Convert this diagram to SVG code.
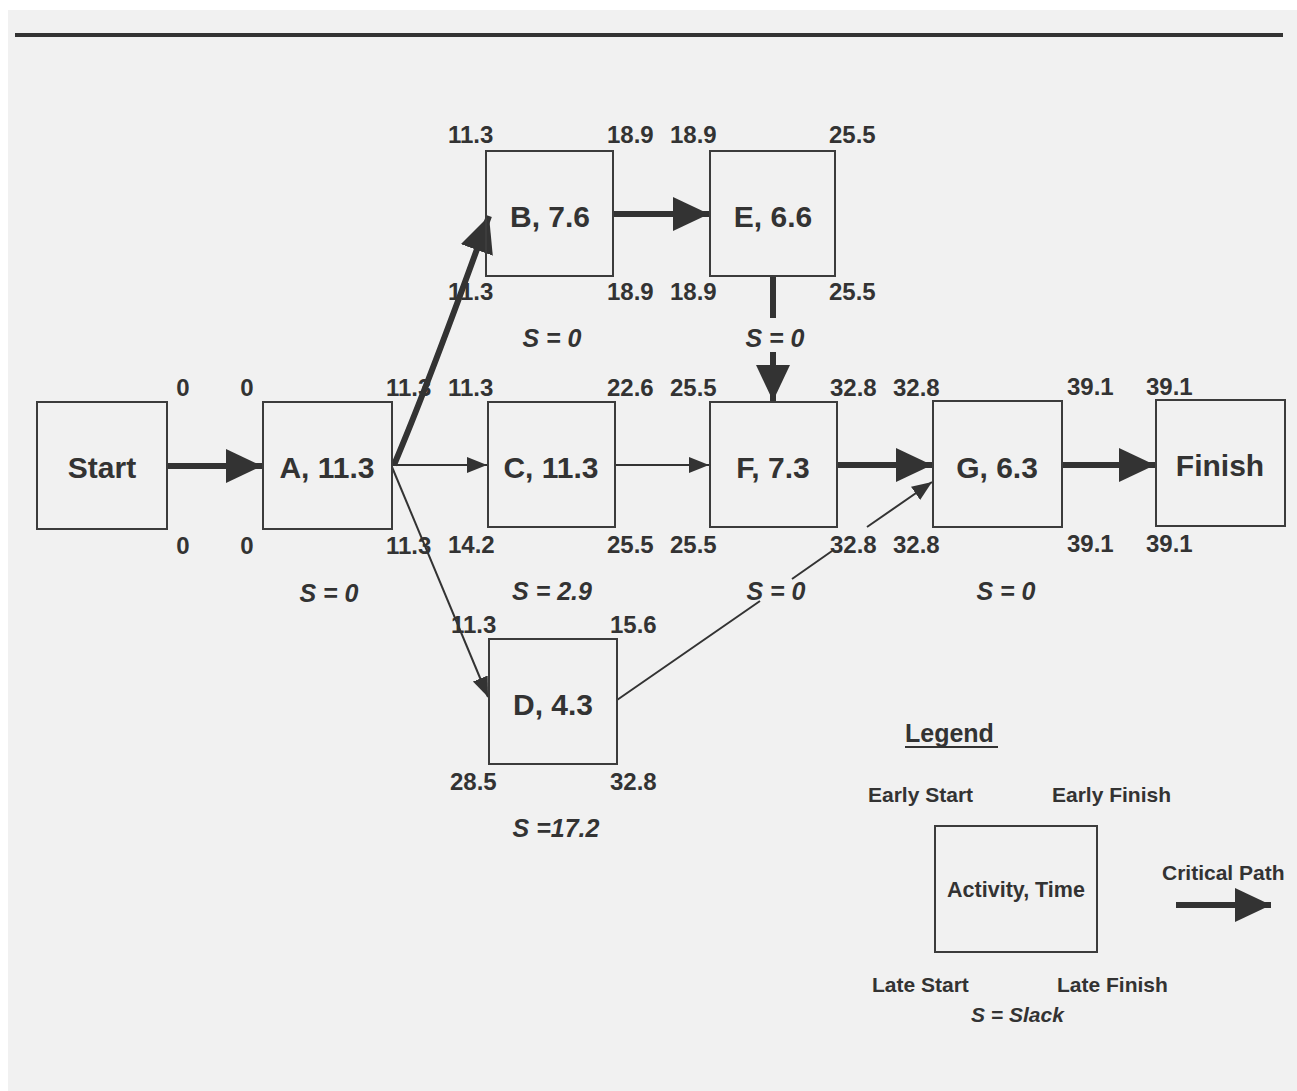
<svg xmlns="http://www.w3.org/2000/svg" width="1297" height="1091" viewBox="0 0 1297 1091">
<style>
.box{fill:none;stroke:#3c3c3c;stroke-width:2}
.lbl{font-family:"Liberation Sans",Arial,sans-serif;font-weight:bold;font-size:30px;fill:#333;text-anchor:middle}
.num{font-family:"Liberation Sans",Arial,sans-serif;font-weight:bold;font-size:24px;fill:#333}
.sl{font-family:"Liberation Sans",Arial,sans-serif;font-weight:bold;font-style:italic;font-size:25px;fill:#333;text-anchor:middle}
.lg{font-family:"Liberation Sans",Arial,sans-serif;font-weight:bold;font-size:21px;fill:#333}
.thick{stroke:#333;stroke-width:6;fill:none}
.thin{stroke:#333;stroke-width:2;fill:none}
</style>
<defs>
<marker id="hb" markerUnits="userSpaceOnUse" markerWidth="38" markerHeight="36" refX="36" refY="17" orient="auto"><path d="M0,0 L36,17 L0,34 z" fill="#333"/></marker>
<marker id="hs" markerUnits="userSpaceOnUse" markerWidth="22" markerHeight="18" refX="20" refY="8" orient="auto"><path d="M0,0 L20,8 L0,16 z" fill="#333"/></marker>
</defs>
<rect width="1297" height="1091" fill="#ffffff"/>
<rect x="8" y="10" width="1289" height="1081" fill="#f1f1f1"/>
<line x1="15" y1="35" x2="1283" y2="35" stroke="#333" stroke-width="4"/>

<g id="connectors">
<line class="thick" x1="167" y1="466" x2="262" y2="466" marker-end="url(#hb)"/>
<path class="thick" d="M394,465 Q430,380 489,216" marker-end="url(#hb)"/>
<line class="thin" x1="392" y1="465" x2="487" y2="465" marker-end="url(#hs)"/>
<line class="thin" x1="392" y1="467" x2="488" y2="697" marker-end="url(#hs)"/>
<line class="thick" x1="613" y1="214" x2="709" y2="214" marker-end="url(#hb)"/>
<path class="thick" d="M773,276 V318 M773,352 V401" marker-end="url(#hb)"/>
<line class="thin" x1="615" y1="465" x2="709" y2="465" marker-end="url(#hs)"/>
<line class="thick" x1="837" y1="465" x2="932" y2="465" marker-end="url(#hb)"/>
<path class="thin" d="M617,700 L760,601 M792,579 L832,551 M867,527 L932,482" marker-end="url(#hs)"/>
<line class="thick" x1="1062" y1="465" x2="1155" y2="465" marker-end="url(#hb)"/>
</g>

<g id="node-start">
<rect class="box" x="37" y="402" width="130" height="127"/>
<text class="lbl" x="102" y="478">Start</text>
<text class="num" x="183" y="396" text-anchor="middle">0</text>
<text class="num" x="183" y="554" text-anchor="middle">0</text>
</g>

<g id="node-a">
<rect class="box" x="263" y="402" width="129" height="127"/>
<text class="lbl" x="327" y="478">A, 11.3</text>
<text class="num" x="247" y="396" text-anchor="middle">0</text>
<text class="num" x="247" y="554" text-anchor="middle">0</text>
<text class="num" x="386" y="396">11.3</text>
<text class="num" x="386" y="554">11.3</text>
<text class="sl" x="329" y="602">S = 0</text>
</g>

<g id="node-b">
<rect class="box" x="486" y="151" width="127" height="125"/>
<text class="lbl" x="550" y="227">B, 7.6</text>
<text class="num" x="448" y="143">11.3</text>
<text class="num" x="607" y="143">18.9</text>
<text class="num" x="448" y="300">11.3</text>
<text class="num" x="607" y="300">18.9</text>
<text class="sl" x="552" y="347">S = 0</text>
</g>

<g id="node-e">
<rect class="box" x="710" y="151" width="125" height="125"/>
<text class="lbl" x="773" y="227">E, 6.6</text>
<text class="num" x="670" y="143">18.9</text>
<text class="num" x="829" y="143">25.5</text>
<text class="num" x="670" y="300">18.9</text>
<text class="num" x="829" y="300">25.5</text>
<text class="sl" x="775" y="347">S = 0</text>
</g>

<g id="node-c">
<rect class="box" x="488" y="402" width="127" height="125"/>
<text class="lbl" x="551" y="478">C, 11.3</text>
<text class="num" x="448" y="396">11.3</text>
<text class="num" x="607" y="396">22.6</text>
<text class="num" x="448" y="553">14.2</text>
<text class="num" x="607" y="553">25.5</text>
<text class="sl" x="552" y="600">S = 2.9</text>
</g>

<g id="node-f">
<rect class="box" x="710" y="402" width="127" height="125"/>
<text class="lbl" x="773" y="478">F, 7.3</text>
<text class="num" x="670" y="396">25.5</text>
<text class="num" x="830" y="396">32.8</text>
<text class="num" x="670" y="553">25.5</text>
<text class="num" x="830" y="553">32.8</text>
<text class="sl" x="776" y="600">S = 0</text>
</g>

<g id="node-g">
<rect class="box" x="933" y="401" width="129" height="126"/>
<text class="lbl" x="997" y="478">G, 6.3</text>
<text class="num" x="893" y="396">32.8</text>
<text class="num" x="1067" y="395">39.1</text>
<text class="num" x="893" y="553">32.8</text>
<text class="num" x="1067" y="552">39.1</text>
<text class="sl" x="1006" y="600">S = 0</text>
</g>

<g id="node-finish">
<rect class="box" x="1156" y="400" width="129" height="126"/>
<text class="lbl" x="1220" y="476">Finish</text>
<text class="num" x="1146" y="395">39.1</text>
<text class="num" x="1146" y="552">39.1</text>
</g>

<g id="node-d">
<rect class="box" x="489" y="639" width="128" height="125"/>
<text class="lbl" x="553" y="715">D, 4.3</text>
<text class="num" x="451" y="633">11.3</text>
<text class="num" x="610" y="633">15.6</text>
<text class="num" x="450" y="790">28.5</text>
<text class="num" x="610" y="790">32.8</text>
<text class="sl" x="556" y="837">S =17.2</text>
</g>

<g id="legend">
<text class="lg" x="905" y="742" style="font-size:25px">Legend</text>
<line x1="905" y1="747" x2="998" y2="747" stroke="#333" stroke-width="2"/>
<text class="lg" x="868" y="802">Early Start</text>
<text class="lg" x="1052" y="802">Early Finish</text>
<rect class="box" x="935" y="826" width="162" height="126"/>
<text class="lg" x="1016" y="897" text-anchor="middle" style="font-size:21.5px">Activity, Time</text>
<text class="lg" x="1162" y="880">Critical Path</text>
<line class="thick" x1="1176" y1="905" x2="1271" y2="905" marker-end="url(#hb)"/>
<text class="lg" x="872" y="992">Late Start</text>
<text class="lg" x="1057" y="992">Late Finish</text>
<text class="lg" x="971" y="1022" style="font-style:italic">S = Slack</text>
</g>
</svg>
